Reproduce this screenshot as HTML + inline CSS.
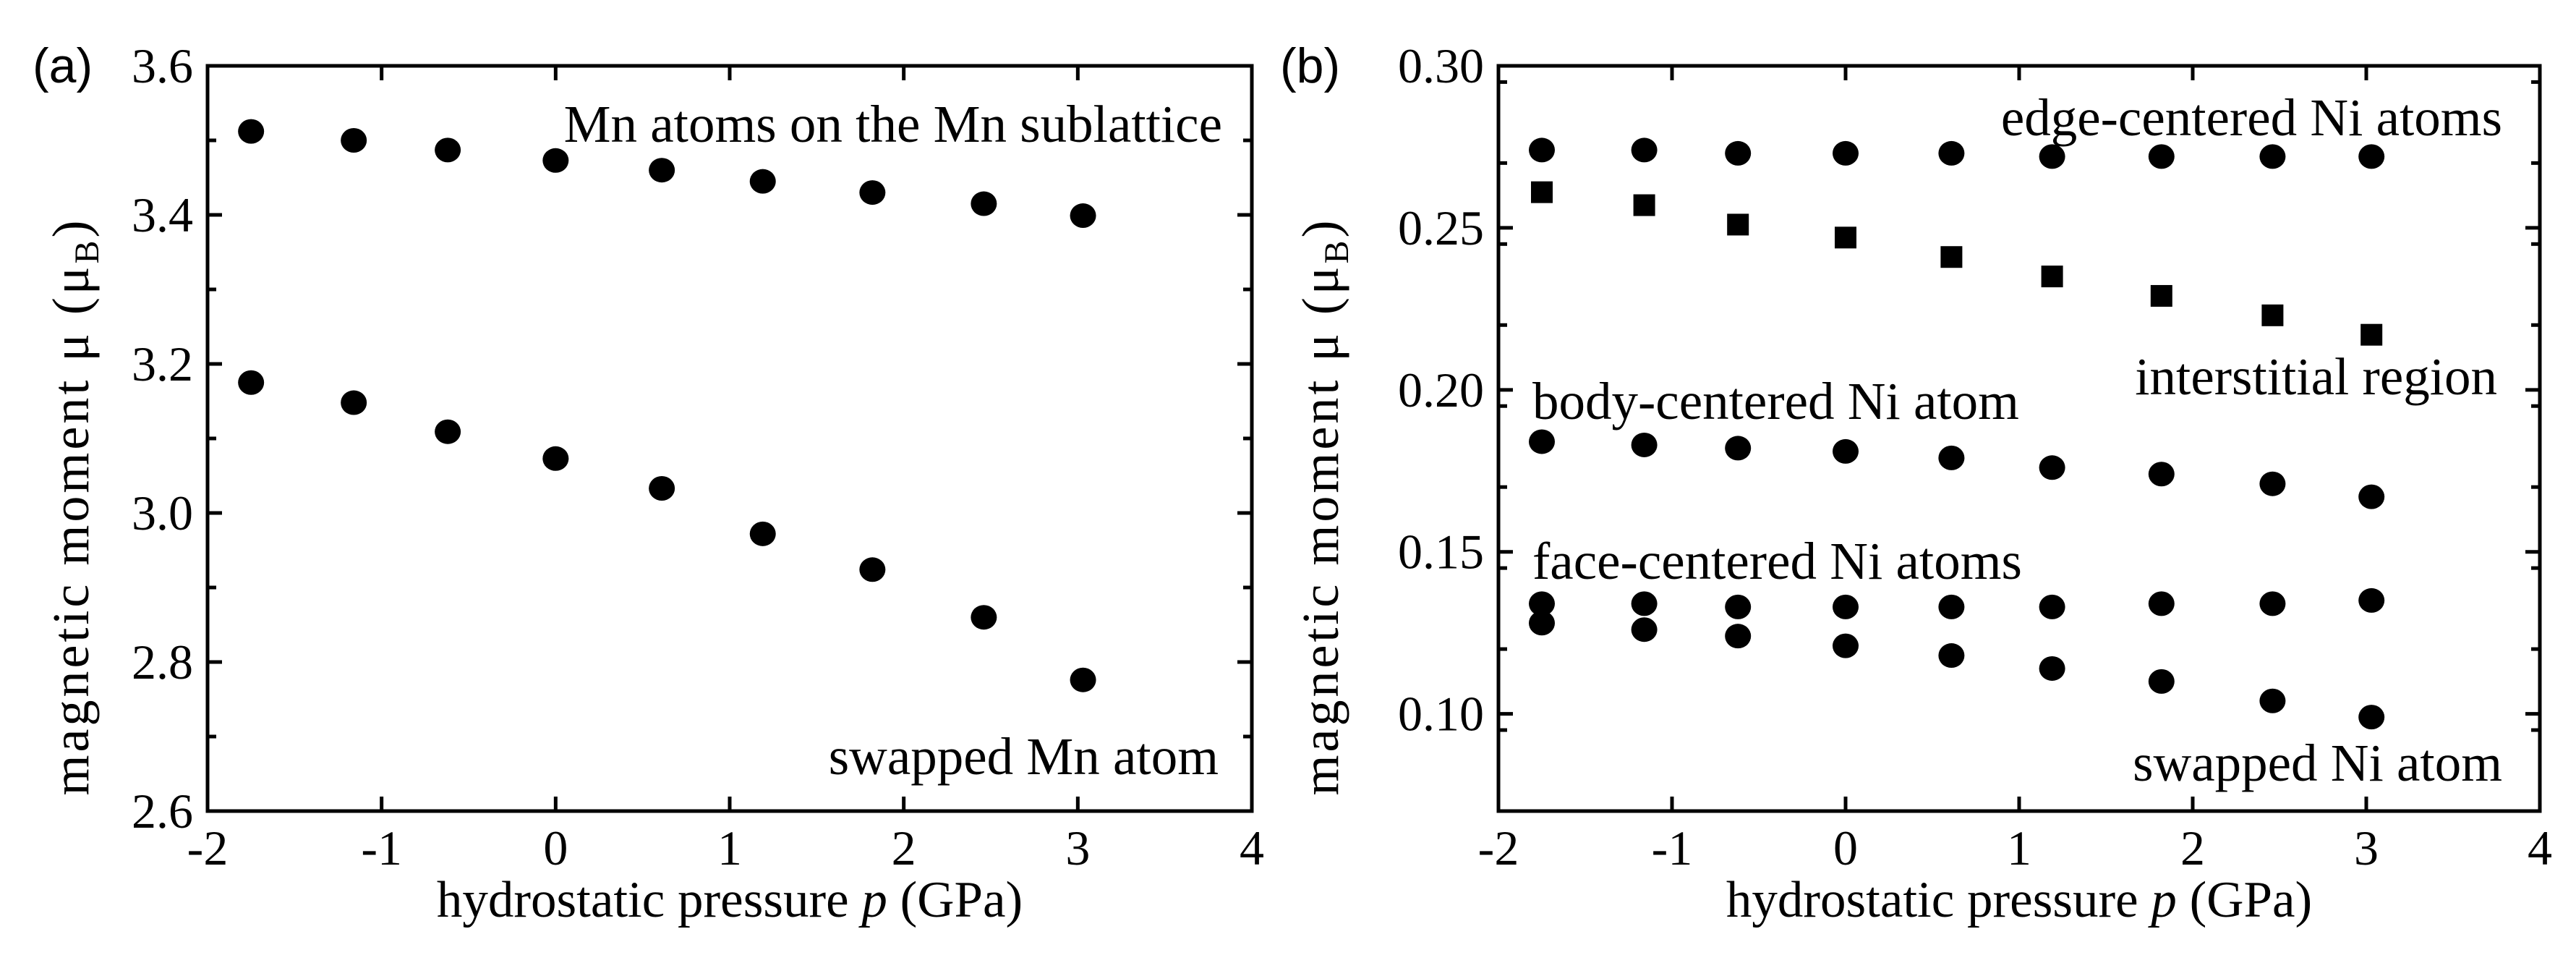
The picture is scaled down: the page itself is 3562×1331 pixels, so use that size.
<!DOCTYPE html>
<html><head><meta charset="utf-8"><style>
html,body{margin:0;padding:0;background:#fff}
svg{display:block}
text{font-family:"Liberation Serif",serif;fill:#000}
</style></head><body>
<svg id="fig" width="3562" height="1331" viewBox="0 0 3562 1331" xmlns="http://www.w3.org/2000/svg">
<text x="45" y="114" style="font-family:'Liberation Sans',sans-serif;font-size:68px">(a)</text>
<text x="1770" y="114" style="font-family:'Liberation Sans',sans-serif;font-size:68px">(b)</text>
</svg>
<script>
const pressure = [-1.75, -1.16, -0.62, 0, 0.61, 1.19, 1.82, 2.46, 3.03];
const mnSublattice = [3.512, 3.500, 3.487, 3.473, 3.460, 3.445, 3.430, 3.415, 3.399];
const mnSwapped = [3.175, 3.148, 3.109, 3.073, 3.033, 2.972, 2.924, 2.860, 2.776];
const niEdge = [0.274, 0.274, 0.273, 0.273, 0.273, 0.272, 0.272, 0.272, 0.272];
const interstitial = [0.261, 0.257, 0.251, 0.247, 0.241, 0.235, 0.229, 0.223, 0.217];
const niBody = [0.184, 0.183, 0.182, 0.181, 0.179, 0.176, 0.174, 0.171, 0.167];
const niFace = [0.134, 0.134, 0.133, 0.133, 0.133, 0.133, 0.134, 0.134, 0.135];
const niSwapped = [0.128, 0.126, 0.124, 0.121, 0.118, 0.114, 0.110, 0.104, 0.099];
const xTicks = [-2, -1, 0, 1, 2, 3, 4];
const xTickLabels = ["-2", "-1", "0", "1", "2", "3", "4"];
const yTicksA = [2.6, 2.8, 3.0, 3.2, 3.4, 3.6];
const yTickLabelsA = ["2.6", "2.8", "3.0", "3.2", "3.4", "3.6"];
const yTicksB = [0.10, 0.15, 0.20, 0.25, 0.30];
const yTickLabelsB = ["0.10", "0.15", "0.20", "0.25", "0.30"];

const NS = "http://www.w3.org/2000/svg";
const svg = document.getElementById('fig');
function mk(tag, attrs, parent){const e=document.createElementNS(NS,tag);for(const k in attrs)e.setAttribute(k,attrs[k]);(parent||svg).appendChild(e);return e;}

function panel(cfg){
  const g = mk('g',{});
  
  
  const L=cfg.x0,R=cfg.x1,T=91,B=1121;
  const sx=v=>L+(v-(-2))/(4-(-2))*(R-L);
  const sy=v=>B-(v-cfg.ymin)/(cfg.ymax-cfg.ymin)*(B-T);
  const frame = mk('rect',{x:L,y:T,width:R-L,height:B-T,fill:'none',stroke:'#000','stroke-width':5},g);
  
  
  xTicks.forEach((v,i)=>{
    const x=sx(v);
    mk('line',{x1:x,y1:B,x2:x,y2:B-20,stroke:'#000','stroke-width':5},g);
    mk('line',{x1:x,y1:T,x2:x,y2:T+20,stroke:'#000','stroke-width':5},g);
    const t=mk('text',{x:x,y:1195,'text-anchor':'middle','font-size':68},g);
    t.textContent=xTickLabels[i];
    
    
  });
  for(let v=cfg.ymin; v<=cfg.ymax+1e-9; v+=cfg.minor){
    const y=sy(v);
    mk('line',{x1:L,y1:y,x2:L+12,y2:y,stroke:'#000','stroke-width':5},g);
    mk('line',{x1:R,y1:y,x2:R-12,y2:y,stroke:'#000','stroke-width':5},g);
  }
  cfg.yticks.forEach((v,i)=>{
    const y=sy(v);
    mk('line',{x1:L,y1:y,x2:L+20,y2:y,stroke:'#000','stroke-width':5},g);
    mk('line',{x1:R,y1:y,x2:R-20,y2:y,stroke:'#000','stroke-width':5},g);
    const t=mk('text',{x:L-20,y:y+23,'text-anchor':'end','font-size':68},g);
    t.textContent=cfg.ylabels[i];
    
    
  });
  const xt=mk('text',{x:(L+R)/2,y:1267,'text-anchor':'middle','font-size':71},g);
  xt.innerHTML='hydrostatic pressure <tspan font-style="italic">p</tspan> (GPa)';
  
  
  const yt=mk('text',{x:0,y:0,'text-anchor':'middle','font-size':72,'letter-spacing':4,transform:`translate(${cfg.ytx},700) rotate(-90)`},g);
  yt.innerHTML='magnetic moment μ (μ<tspan font-size="48" dy="14">B</tspan><tspan dy="-14">)</tspan>';
  
  
  cfg.series.forEach(s=>{
    s.vals.forEach((v,i)=>{
      let m;
      if(s.square){ m=mk('rect',{x:sx(pressure[i])-15,y:sy(v)-15,width:30,height:30,fill:'#000'},g); }
      else { m=mk('ellipse',{cx:sx(pressure[i]),cy:sy(v),rx:18,ry:17,fill:'#000'},g); }
      
      
    });
  });
  cfg.notes.forEach(n=>{
    const t=mk('text',{x:n.x,y:n.y,'text-anchor':n.a,'font-size':73},g);
    t.textContent=n.t;
    
    
  });
}
panel({name:'panel-a',x0:287,x1:1731,ymin:2.6,ymax:3.6,minor:0.1,yticks:yTicksA,ylabels:yTickLabelsA,ytx:122,
  series:[{name:'mn-sublattice',vals:mnSublattice},{name:'mn-swapped',vals:mnSwapped}],
  notes:[{t:'Mn atoms on the Mn sublattice',x:1690,y:196,a:'end',name:'label-mn-sublattice'},
         {t:'swapped Mn atom',x:1685,y:1070,a:'end',name:'label-swapped-mn'}]});
panel({name:'panel-b',x0:2072,x1:3512,ymin:0.07,ymax:0.30,minor:0.025,yticks:yTicksB,ylabels:yTickLabelsB,ytx:1850,
  series:[{name:'ni-edge',vals:niEdge},{name:'interstitial',vals:interstitial,square:true},{name:'ni-body',vals:niBody},{name:'ni-face',vals:niFace},{name:'ni-swapped',vals:niSwapped}],
  notes:[{t:'edge-centered Ni atoms',x:3460,y:187,a:'end',name:'label-edge-ni'},
         {t:'interstitial region',x:3453,y:545,a:'end',name:'label-interstitial'},
         {t:'body-centered Ni atom',x:2119,y:579,a:'start',name:'label-body-ni'},
         {t:'face-centered Ni atoms',x:2119,y:800,a:'start',name:'label-face-ni'},
         {t:'swapped Ni atom',x:3460,y:1079,a:'end',name:'label-swapped-ni'}]});
</script>
</body></html>
